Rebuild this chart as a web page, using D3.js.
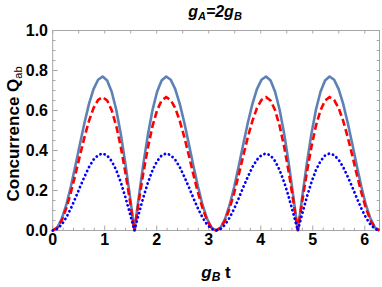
<!DOCTYPE html>
<html>
<head>
<meta charset="utf-8">
<script src="https://cdn.jsdelivr.net/npm/d3@7"></script>
<style>
  html, body { margin: 0; padding: 0; background: #fff; }
  svg { display: block; font-family: "Liberation Sans", Arial, sans-serif; }
</style>
</head>
<body>
<svg id="chart" width="382" height="287"></svg>
<script>
// time axis g_B t (radians, 0 .. 2pi)
const tValues = [0, 0.087, 0.175, 0.262, 0.349, 0.436, 0.524, 0.611, 0.698, 0.785, 0.873, 0.960, 1.047, 1.134, 1.222, 1.309, 1.396, 1.484, 1.571,
  1.658, 1.745, 1.833, 1.920, 2.007, 2.094, 2.182, 2.269, 2.356, 2.443, 2.531, 2.618, 2.705, 2.793, 2.880, 2.967, 3.054, 3.142,
  3.229, 3.316, 3.403, 3.491, 3.578, 3.665, 3.752, 3.840, 3.927, 4.014, 4.102, 4.189, 4.276, 4.363, 4.451, 4.538, 4.625, 4.712,
  4.800, 4.887, 4.974, 5.061, 5.149, 5.236, 5.323, 5.411, 5.498, 5.585, 5.672, 5.760, 5.847, 5.934, 6.021, 6.109, 6.196, 6.283];

// solid steel-blue curve
const solidQ = [0, 0.015, 0.059, 0.129, 0.220, 0.324, 0.433, 0.539, 0.633, 0.707, 0.754, 0.770, 0.750, 0.694, 0.604, 0.483, 0.337, 0.173, 0,
  0.173, 0.337, 0.483, 0.604, 0.694, 0.750, 0.770, 0.754, 0.707, 0.633, 0.539, 0.433, 0.324, 0.220, 0.129, 0.059, 0.015, 0,
  0.015, 0.059, 0.129, 0.220, 0.324, 0.433, 0.539, 0.633, 0.707, 0.754, 0.770, 0.750, 0.694, 0.604, 0.483, 0.337, 0.173, 0,
  0.173, 0.337, 0.483, 0.604, 0.694, 0.750, 0.770, 0.754, 0.707, 0.633, 0.539, 0.433, 0.324, 0.220, 0.129, 0.059, 0.015, 0];

// red dashed curve
const dashedQ = [0, 0.013, 0.051, 0.112, 0.190, 0.280, 0.375, 0.467, 0.548, 0.612, 0.653, 0.667, 0.650, 0.601, 0.523, 0.418, 0.292, 0.150, 0,
  0.150, 0.292, 0.418, 0.523, 0.601, 0.650, 0.667, 0.653, 0.612, 0.548, 0.467, 0.375, 0.280, 0.190, 0.112, 0.051, 0.013, 0,
  0.013, 0.051, 0.112, 0.190, 0.280, 0.375, 0.467, 0.548, 0.612, 0.653, 0.667, 0.650, 0.601, 0.523, 0.418, 0.292, 0.150, 0,
  0.150, 0.292, 0.418, 0.523, 0.601, 0.650, 0.667, 0.653, 0.612, 0.548, 0.467, 0.375, 0.280, 0.190, 0.112, 0.051, 0.013, 0];

// blue dotted curve
const dottedQ = [0, 0.008, 0.030, 0.065, 0.110, 0.162, 0.217, 0.269, 0.317, 0.354, 0.377, 0.385, 0.375, 0.347, 0.302, 0.241, 0.168, 0.086, 0,
  0.086, 0.168, 0.241, 0.302, 0.347, 0.375, 0.385, 0.377, 0.354, 0.317, 0.269, 0.217, 0.162, 0.110, 0.065, 0.030, 0.008, 0,
  0.008, 0.030, 0.065, 0.110, 0.162, 0.217, 0.269, 0.317, 0.354, 0.377, 0.385, 0.375, 0.347, 0.302, 0.241, 0.168, 0.086, 0,
  0.086, 0.168, 0.241, 0.302, 0.347, 0.375, 0.385, 0.377, 0.354, 0.317, 0.269, 0.217, 0.162, 0.110, 0.065, 0.030, 0.008, 0];

const xTicks = [0, 1, 2, 3, 4, 5, 6];
const yTicks = [0, 0.2, 0.4, 0.6, 0.8, 1.0];

const svg = d3.select('#chart');
const plotL = 52.7, plotR = 379.5, plotT = 30.5, plotB = 230.5;
const frameColor = '#a6a6a6';

const x = d3.scaleLinear().domain([0, 2 * Math.PI]).range([plotL, plotR]);
const y = d3.scaleLinear().domain([0, 1]).range([plotB, plotT]);

// frame ticks (inward, Mathematica style)
const ticks = svg.append('g').attr('stroke', frameColor).attr('stroke-width', 1);
d3.range(0, 6.3, 0.2).forEach(v => {
  const major = Math.abs(v - Math.round(v)) < 1e-6;
  ticks.append('line')
    .attr('x1', x(v)).attr('x2', x(v))
    .attr('y1', plotB).attr('y2', plotB - (major ? 5 : 2.8));
});
d3.range(0, 6.3, 0.5).forEach(v => {
  ticks.append('line')
    .attr('x1', x(v)).attr('x2', x(v))
    .attr('y1', plotT).attr('y2', plotT + 3);
});
d3.range(0, 1.001, 0.05).forEach(v => {
  const major = Math.abs(v * 5 - Math.round(v * 5)) < 1e-6;
  ticks.append('line')
    .attr('x1', plotL).attr('x2', plotL + (major ? 5 : 2.8))
    .attr('y1', y(v)).attr('y2', y(v));
  ticks.append('line')
    .attr('x1', plotR).attr('x2', plotR - 2.8)
    .attr('y1', y(v)).attr('y2', y(v));
});

// frame
svg.append('rect')
  .attr('x', plotL).attr('y', plotT)
  .attr('width', plotR - plotL).attr('height', plotB - plotT)
  .attr('fill', 'none').attr('stroke', frameColor).attr('stroke-width', 1);

// tick labels
svg.append('g').selectAll('text').data(xTicks).join('text')
  .attr('x', d => x(d)).attr('y', 245)
  .attr('text-anchor', 'middle')
  .attr('font-size', 16).attr('font-weight', 'bold')
  .text(d => d);

svg.append('g').selectAll('text').data(yTicks).join('text')
  .attr('x', 48).attr('y', d => y(d) + 5.5)
  .attr('text-anchor', 'end')
  .attr('font-size', 16).attr('font-weight', 'bold')
  .text(d => d.toFixed(1));

// curves
const line = ys => d3.line()
  .x((d, i) => x(tValues[i]))
  .y(d => y(d))(ys);

const plot = svg.append('g');
plot.append('path')
  .attr('d', line(solidQ))
  .attr('fill', 'none').attr('stroke', '#5e81b5').attr('stroke-width', 2.6)
  .attr('stroke-linejoin', 'round');
plot.append('path')
  .attr('d', line(dashedQ))
  .attr('fill', 'none').attr('stroke', '#ff0000').attr('stroke-width', 2.6)
  .attr('stroke-dasharray', '7,3.5');
plot.append('path')
  .attr('d', line(dottedQ))
  .attr('fill', 'none').attr('stroke', '#0000ff').attr('stroke-width', 2.8)
  .attr('stroke-linecap', 'round').attr('stroke-dasharray', '0.1,4.3');

// title g_A=2g_B
const title = svg.append('text')
  .attr('x', 215).attr('y', 17)
  .attr('text-anchor', 'middle')
  .attr('font-size', 16).attr('font-weight', 'bold').attr('font-style', 'italic');
title.append('tspan').text('g');
title.append('tspan').attr('font-size', 11).attr('dy', 3).text('A');
title.append('tspan').attr('dy', -3).text('=2g');
title.append('tspan').attr('font-size', 11).attr('dy', 3).text('B');

// x label g_B t
const xLab = svg.append('text')
  .attr('x', 216).attr('y', 278)
  .attr('text-anchor', 'middle')
  .attr('font-size', 17).attr('font-weight', 'bold');
xLab.append('tspan').attr('font-style', 'italic').text('g');
xLab.append('tspan').attr('font-style', 'italic').attr('font-size', 12).attr('dy', 3).text('B');
xLab.append('tspan').attr('dy', -3).text(' t');

// y label Concurrence Q_ab
const yLab = svg.append('text')
  .attr('transform', 'translate(19,134) rotate(-90)')
  .attr('text-anchor', 'middle')
  .attr('font-size', 17).attr('font-weight', 'bold');
yLab.append('tspan').text('Concurrence Q');
yLab.append('tspan').attr('font-size', 11).attr('font-weight', 'normal').attr('dy', 3).text('ab');
</script>
</body>
</html>
